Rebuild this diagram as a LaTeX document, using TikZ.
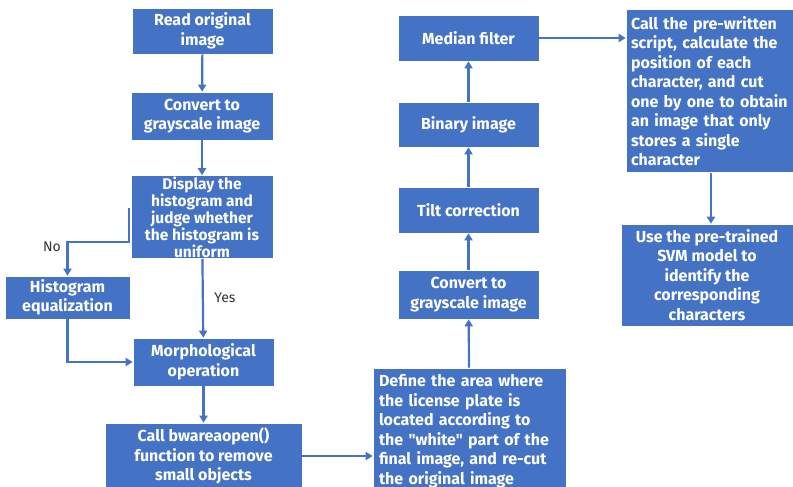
\documentclass[tikz,border=0pt]{standalone}
\usepackage{fontspec}
\setmainfont{Fira Sans}[Ligatures=TeXOff]
\usetikzlibrary{arrows.meta}

\definecolor{boxblue}{HTML}{4472C4}

\begin{document}
\begin{tikzpicture}[x=1pt,y=-1pt,
    box/.style={draw=white,line width=0.6pt,fill=boxblue,text=white,
        font=\bfseries\fontsize{16}{19.5}\selectfont,align=center,inner sep=0pt},
    leftbox/.style={box,align=left,inner xsep=5pt},
    link/.style={draw=boxblue,line width=2.2pt,-{Triangle[length=7pt,width=8pt]}},
    lbl/.style={text=black!80,font=\fontsize{14}{16}\selectfont}]
    \useasboundingbox (0,0) rectangle (793,487);
    % left column
    \node[box,minimum width=141pt,minimum height=46pt] (read) at (202.5,31) {Read original\\image};
    \node[box,minimum width=142pt,minimum height=48pt] (gray) at (202,116) {Convert to\\grayscale image};
    \node[box,minimum width=142pt,minimum height=83pt,font=\bfseries\fontsize{15.5}{16}\selectfont] (disp) at (202,217)
        {Display the\\histogram and\\judge whether\\the histogram is\\uniform};
    \node[box,minimum width=125pt,minimum height=43pt] (equal) at (67.5,297.5) {Histogram\\equalization};
    \node[box,minimum width=141pt,minimum height=48pt] (morph) at (203.5,362) {Morphological\\operation};
    \node[box,minimum width=197pt,minimum height=66pt] (bware) at (203.5,456)
        {Call bwareaopen()\\function to remove\\small objects};
    % middle column
    \node[leftbox,inner xsep=6pt,text width=181pt,minimum height=126pt] (area) at (469.5,431)
        {Define the area where\\the license plate is\\located according to\\the "white" part of the\\final image, and re-cut\\the original image};
    \node[box,minimum width=141pt,minimum height=49pt] (gray2) at (468.5,294.5) {Convert to\\grayscale image};
    \node[box,minimum width=141pt,minimum height=46pt] (tilt) at (468.5,210) {Tilt correction};
    \node[box,minimum width=141pt,minimum height=45pt] (binary) at (468.5,124.5) {Binary image};
    \node[box,minimum width=141pt,minimum height=46pt] (median) at (468.5,38) {Median filter};
    % right column
    \node[leftbox,text width=157pt,minimum height=163pt] (script) at (709.5,91)
        {Call the pre-written\\script, calculate the\\position of each\\character, and cut\\one by one to obtain\\an image that only\\stores a single\\character};
    \node[box,minimum width=172pt,minimum height=102pt] (svm) at (707,275)
        {Use the pre-trained\\SVM model to\\identify the\\corresponding\\characters};
    % connectors
    \coordinate (nostart) at (129,208);
    \draw[link] (read) -- (gray);
    \draw[link] (gray) -- (disp);
    \draw[link] (nostart) -- ++(0,34) -| (equal.north);
    \draw[link] (disp) -- (morph);
    \draw[link] (equal.south) |- (morph.west);
    \draw[link] (morph) -- (bware);
    \draw[link] (bware.east) -- (bware.east -| area.west);
    \draw[link] (area) -- (gray2);
    \draw[link] (gray2) -- (tilt);
    \draw[link] (tilt) -- (binary);
    \draw[link] (binary) -- (median);
    \draw[link] (median.east) -- (median.east -| script.west);
    \draw[link] (script.south -| 711,0) -- (svm.north -| 711,0);
    \node[lbl] (no) at (52,247) {No};
    \node[lbl] (yes) at (225,298) {Yes};
\end{tikzpicture}
\end{document}
